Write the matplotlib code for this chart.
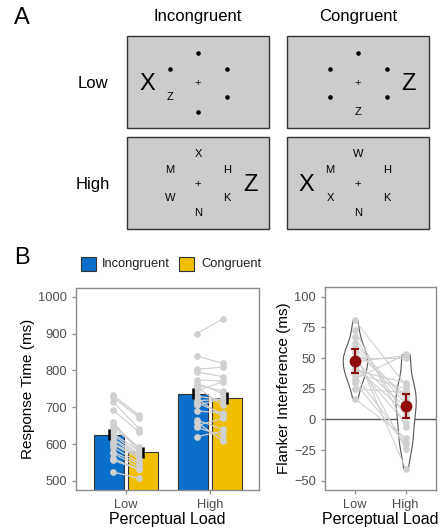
import matplotlib
matplotlib.use("Agg")
import matplotlib.pyplot as plt
from matplotlib.patches import Rectangle
import numpy as np

plt.rcParams['font.family'] = ['Liberation Sans', 'DejaVu Sans']

# ---------------- data ----------------
conditions = ["Incongruent", "Congruent"]
load_levels = ["Low", "High"]

mean_incong = [625, 737]
mean_cong = [577, 725]
se_incong = [15, 15]
se_cong = [15, 17]

low_incong = [733, 727, 715, 692, 655, 660, 651, 642, 625, 629,
              612, 615, 600, 602, 592, 575, 579, 561, 556, 524]
low_cong = [678, 672, 642, 633, 588, 579, 589, 592, 572, 581,
            565, 570, 560, 566, 549, 537, 546, 531, 531, 507]
high_incong = [900, 839, 803, 796, 774, 765, 760, 755, 745, 730,
               725, 718, 712, 705, 690, 665, 660, 650, 645, 620]
high_cong = [940, 819, 809, 783, 771, 737, 744, 705, 769, 720,
             673, 721, 682, 723, 684, 640, 607, 670, 623, 635]

interf_low = [55, 55, 73, 59, 67, 81, 62, 50, 53, 48,
              47, 45, 40, 36, 43, 38, 33, 30, 25, 17]
interf_high = [-40, 20, -6, 13, 3, 28, 16, 50, -24, 10,
               52, -3, 30, -18, 6, 25, 53, -20, 22, -15]
interf_mean = [47.5, 11]
interf_lo = [37.5, 1]
interf_hi = [57.5, 21]

# ---------------- styling ----------------
BLUE = "#0A6FC8"
YELLOW = "#F0C000"
DARKRED = "#8E0C0C"
PTGRAY = "#D0D0D0"
TICKC = "#4D4D4D"
SPINEC = "#8C8C8C"

fig = plt.figure(figsize=(4.41, 5.28), dpi=100)

# ---------------- Panel A (diagram) ----------------
axA = fig.add_axes([0, 0, 1, 1])
axA.set_xlim(0, 441)
axA.set_ylim(528, 0)
axA.axis("off")
axA.patch.set_alpha(0)

axA.text(22, 18, "A", fontsize=17, ha="center", va="center")
axA.text(22, 258, "B", fontsize=17, ha="center", va="center")
axA.text(198, 17, "Incongruent", fontsize=12, ha="center", va="center")
axA.text(358, 17, "Congruent", fontsize=12, ha="center", va="center")
axA.text(93, 84, "Low", fontsize=12, ha="center", va="center")
axA.text(93, 184, "High", fontsize=12, ha="center", va="center")

box_cx = [198, 358]
box_cy = [82, 183]
box_w, box_h = 142, 92
for cy in box_cy:
    for cx in box_cx:
        axA.add_patch(Rectangle((cx - box_w / 2, cy - box_h / 2), box_w, box_h,
                                facecolor="#CCCCCC", edgecolor="#333333", lw=1.0))

ring = [(0, -29), (-28, -13), (29, -13), (-28, 15), (29, 15), (0, 30)]
# low load displays: '.' means dot
low_items = [[".", ".", ".", "Z", ".", "."], [".", ".", ".", ".", ".", "Z"]]
high_items = [["X", "M", "H", "W", "K", "N"], ["W", "M", "H", "X", "K", "N"]]
big_low = [("X", -51), ("Z", 50)]
big_high = [("Z", 52), ("X", -52)]

for col in range(2):
    for row, items, bigs in [(0, low_items, big_low), (1, high_items, big_high)]:
        cx, cy = box_cx[col], box_cy[row]
        axA.text(cx, cy + 1, "+", fontsize=8, ha="center", va="center")
        for (dx, dy), it in zip(ring, items[col]):
            if it == ".":
                axA.plot(cx + dx, cy + dy, "o", color="black", ms=2.3)
            else:
                axA.text(cx + dx, cy + dy, it, fontsize=8, ha="center", va="center")
        letter, bx = bigs[col]
        axA.text(cx + bx, cy + 2, letter, fontsize=17, ha="center", va="center")

# legend
axA.add_patch(Rectangle((80.5, 257), 15, 14, facecolor=BLUE, edgecolor="#333333", lw=0.8))
axA.text(102, 264.5, "Incongruent", fontsize=9.3, ha="left", va="center", color="#222222")
axA.add_patch(Rectangle((179, 257), 15, 14, facecolor=YELLOW, edgecolor="#333333", lw=0.8))
axA.text(201, 264.5, "Congruent", fontsize=9.3, ha="left", va="center", color="#222222")


def style_axes(ax):
    for s in ax.spines.values():
        s.set_color(SPINEC)
        s.set_linewidth(1.0)
    ax.tick_params(axis="both", colors=SPINEC, labelcolor=TICKC, labelsize=9.3,
                   length=3, width=0.9, direction="out")


# ---------------- Panel B left: bars ----------------
ax1 = fig.add_axes([76 / 441, 38 / 528, 183 / 441, 202 / 528])
x = np.array([1, 2])
bw = 0.357
off = 0.2
ax1.bar(x - off, mean_incong, width=bw, color=BLUE, edgecolor="#333333", lw=0.8, zorder=1)
ax1.bar(x + off, mean_cong, width=bw, color=YELLOW, edgecolor="#333333", lw=0.8, zorder=1)

pt_off = 0.155
for xi, inc, con in [(1, low_incong, low_cong), (2, high_incong, high_cong)]:
    for a, b in zip(inc, con):
        ax1.plot([xi - pt_off, xi + pt_off], [a, b], "-", color=PTGRAY, lw=0.9, zorder=2)
    ax1.plot([xi - pt_off] * len(inc), inc, "o", color=PTGRAY, ms=3.8, zorder=3)
    ax1.plot([xi + pt_off] * len(con), con, "o", color=PTGRAY, ms=3.8, zorder=3)

ax1.errorbar(x - off, mean_incong, yerr=se_incong, fmt="none", ecolor="black",
             elinewidth=1.8, capsize=0, zorder=4)
ax1.errorbar(x + off, mean_cong, yerr=se_cong, fmt="none", ecolor="black",
             elinewidth=1.8, capsize=0, zorder=4)

ax1.set_xlim(0.405, 2.585)
ax1.set_ylim(475, 1024)
ax1.set_yticks([500, 600, 700, 800, 900, 1000])
ax1.set_xticks(x)
ax1.set_xticklabels(load_levels)
ax1.set_xlabel("Perceptual Load", fontsize=11.5, labelpad=1)
ax1.set_ylabel("Response Time (ms)", fontsize=11, labelpad=2)
style_axes(ax1)

# ---------------- Panel B right: interference ----------------
ax2 = fig.add_axes([325 / 441, 38 / 528, 111 / 441, 203 / 528])
ax2.axhline(0, color="#555555", lw=1.0, zorder=1)
vp = ax2.violinplot([interf_low, interf_high], positions=[1, 2], widths=[0.48, 0.40],
                    showextrema=False, bw_method=0.45)
for body in vp["bodies"]:
    body.set_facecolor("white")
    body.set_edgecolor("#555555")
    body.set_linewidth(0.8)
    body.set_alpha(1)
    body.set_zorder(2)

for a, b in zip(interf_low, interf_high):
    ax2.plot([1, 2], [a, b], "-", color=PTGRAY, lw=0.8, zorder=3)
ax2.plot([1] * len(interf_low), interf_low, "o", color=PTGRAY, ms=3.8, zorder=3)
ax2.plot([2] * len(interf_high), interf_high, "o", color=PTGRAY, ms=3.8, zorder=3)

mean_arr = np.array(interf_mean)
err = [mean_arr - np.array(interf_lo), np.array(interf_hi) - mean_arr]
ax2.errorbar([1, 2], interf_mean, yerr=err, fmt="o", color=DARKRED, ms=7.5,
             elinewidth=1.5, capsize=3, capthick=1.5, zorder=5)

ax2.set_xlim(0.41, 2.6)
ax2.set_ylim(-57.5, 108)
ax2.set_yticks([-50, -25, 0, 25, 50, 75, 100])
ax2.set_xticks([1, 2])
ax2.set_xticklabels(load_levels)
ax2.set_xlabel("Perceptual Load", fontsize=11.5, labelpad=1)
ax2.set_ylabel("Flanker Interference (ms)", fontsize=11, labelpad=2)
style_axes(ax2)

fig.savefig("out.png", dpi=100)
